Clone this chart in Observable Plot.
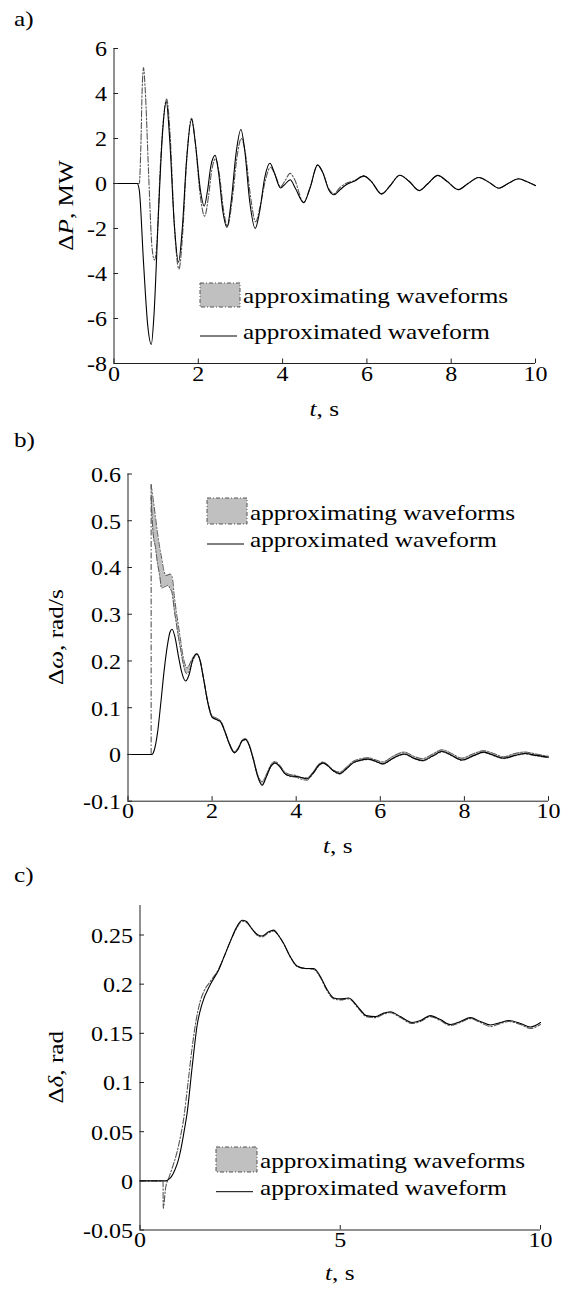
<!DOCTYPE html>
<html><head><meta charset="utf-8">
<script src="https://cdn.jsdelivr.net/npm/d3@7"></script>
<script src="https://cdn.jsdelivr.net/npm/@observablehq/plot@0.6"></script>
<style>
html,body{margin:0;padding:0;background:#fff;}
#root{position:relative;width:561px;height:1292px;overflow:hidden;}
#root svg{position:absolute;left:0;}
</style></head><body><div id="root"></div>
<script>
// ---------- data: panel a (ΔP, MW) ----------
const aXTicks = [0, 2, 4, 6, 8, 10];
const aYTicks = [-8, -6, -4, -2, 0, 2, 4, 6];
const aSolidT = [0,0.55,0.6,0.7,0.8,0.885,0.95,1.05,1.15,1.24,1.32,1.43,1.53,1.62,1.72,1.84,1.93,2.05,2.14,2.22,2.3,2.4,2.48,2.58,2.68,2.78,2.9,3.01,3.1,3.22,3.35,3.45,3.58,3.7,3.8,3.95,4.05,4.18,4.3,4.5,4.65,4.83,4.95,5.1,5.22,5.35,5.5,5.7,5.93,6.1,6.35,6.55,6.78,7.0,7.24,7.45,7.68,7.9,8.17,8.4,8.65,8.9,9.13,9.35,9.6,9.8,10];
const aSolidV = [0,0,-0.3,-3.5,-6.3,-7.15,-5.8,-1.5,2.2,3.65,2.0,-1.8,-3.5,-2.0,1.0,2.85,1.8,-0.3,-1.0,-0.3,0.8,1.25,0.5,-1.2,-1.95,-0.8,1.4,2.4,1.5,-0.8,-2.0,-1.3,0.3,0.9,0.5,-0.2,-0.05,0.17,-0.2,-0.85,-0.2,0.83,0.5,-0.3,-0.5,-0.3,-0.07,0.1,0.33,0.1,-0.47,-0.1,0.37,0.1,-0.32,0.0,0.36,0.1,-0.27,0.0,0.27,0.05,-0.21,0.0,0.21,0.08,-0.09];
const aApproxT = [0,0.6,0.635,0.67,0.7,0.74,0.82,0.9,0.96,1.02,1.1,1.18,1.25,1.33,1.43,1.54,1.63,1.72,1.84,1.93,2.05,2.15,2.24,2.32,2.41,2.5,2.6,2.69,2.8,2.92,3.02,3.12,3.24,3.36,3.47,3.6,3.71,3.82,3.95,4.05,4.18,4.28,4.5,4.65,4.83,4.95,5.1,5.22,5.35,5.5,5.7,5.93,6.1,6.35,6.55,6.78,7.0,7.24,7.45,7.68,7.9,8.17,8.4,8.65,8.9,9.13,9.35,9.6,9.8,10];
const aApproxV = [0,0,1.5,4.3,5.15,4.2,0.5,-2.8,-3.4,-2.6,0.8,3.0,3.75,2.2,-1.8,-3.8,-2.2,0.9,2.9,1.8,-0.6,-1.45,-0.6,0.6,1.1,0.4,-1.2,-1.9,-0.8,1.2,2.0,1.3,-0.6,-1.7,-1.0,0.2,0.72,0.4,-0.15,0.1,0.45,0.2,-0.85,-0.2,0.8,0.5,-0.25,-0.45,-0.2,0.0,0.12,0.35,0.1,-0.45,-0.1,0.37,0.1,-0.3,0.0,0.35,0.1,-0.27,0.0,0.27,0.05,-0.2,0.0,0.2,0.08,-0.1];

// ---------- data: panel b (Δω, rad/s) ----------
const bXTicks = [0, 2, 4, 6, 8, 10];
const bYTicks = [-0.1, 0, 0.1, 0.2, 0.3, 0.4, 0.5, 0.6];
const bSolidT = [0,0.57,0.62,0.7,0.78,0.86,0.94,1.0,1.05,1.12,1.2,1.28,1.37,1.45,1.54,1.63,1.7,1.8,1.9,2.0,2.1,2.2,2.3,2.4,2.53,2.62,2.72,2.8,2.88,2.98,3.08,3.19,3.28,3.4,3.5,3.6,3.72,3.85,4.0,4.15,4.26,4.4,4.55,4.64,4.75,4.9,5.03,5.2,5.35,5.5,5.72,5.9,6.06,6.3,6.57,6.8,7.0,7.25,7.47,7.7,7.94,8.2,8.46,8.7,8.93,9.2,9.44,9.7,10];
const bSolidV = [0,0,0.008,0.045,0.11,0.18,0.235,0.262,0.268,0.25,0.21,0.175,0.157,0.17,0.203,0.215,0.205,0.16,0.11,0.08,0.075,0.07,0.05,0.025,0.004,0.012,0.03,0.032,0.02,-0.01,-0.045,-0.066,-0.05,-0.025,-0.018,-0.025,-0.04,-0.046,-0.047,-0.05,-0.052,-0.04,-0.022,-0.018,-0.024,-0.036,-0.041,-0.03,-0.018,-0.013,-0.01,-0.015,-0.02,-0.008,0.001,-0.008,-0.013,-0.003,0.007,-0.002,-0.012,-0.003,0.005,-0.002,-0.008,-0.002,0.002,-0.002,-0.006];
const bJumpT = 0.55;
const bJumpTop = 0.577;
const bBandT = [0.55,0.6,0.65,0.7,0.75,0.8,0.85,0.9,0.95,1.0,1.05,1.1,1.15,1.2,1.25,1.3,1.35,1.4,1.45,1.5,1.57,1.64,1.72,1.8,1.9,2.0,2.1,2.2,2.3,2.4,2.53,2.62,2.72,2.8,2.88,2.98,3.08,3.19,3.28,3.4,3.5,3.6,3.72,3.85,4.0,4.15,4.26,4.4,4.55,4.64,4.75,4.9,5.03,5.2,5.35,5.5,5.72,5.9,6.06,6.3,6.57,6.8,7.0,7.25,7.47,7.7,7.94,8.2,8.46,8.7,8.93,9.2,9.44,9.7,10];
const bBandHi = [0.577,0.545,0.51,0.475,0.445,0.42,0.395,0.383,0.384,0.386,0.38,0.34,0.305,0.275,0.245,0.215,0.195,0.185,0.19,0.2,0.21,0.216,0.2,0.162,0.113,0.083,0.078,0.073,0.052,0.027,0.006,0.014,0.031,0.034,0.022,-0.008,-0.042,-0.058,-0.045,-0.022,-0.015,-0.022,-0.036,-0.043,-0.045,-0.05,-0.05,-0.038,-0.02,-0.016,-0.022,-0.034,-0.038,-0.027,-0.015,-0.01,-0.007,-0.012,-0.016,-0.004,0.005,-0.004,-0.009,0.001,0.01,0.002,-0.008,0.001,0.008,0.002,-0.005,0.002,0.005,0.001,-0.004];
const bBandLo = [0.55,0.47,0.445,0.41,0.385,0.356,0.358,0.36,0.362,0.355,0.345,0.31,0.28,0.25,0.225,0.2,0.18,0.172,0.178,0.19,0.206,0.214,0.2,0.16,0.11,0.079,0.074,0.069,0.049,0.024,0.003,0.011,0.029,0.031,0.019,-0.011,-0.046,-0.064,-0.05,-0.026,-0.019,-0.026,-0.041,-0.047,-0.049,-0.054,-0.055,-0.042,-0.024,-0.019,-0.025,-0.037,-0.042,-0.031,-0.019,-0.014,-0.011,-0.016,-0.021,-0.009,0.0,-0.009,-0.014,-0.004,0.005,-0.003,-0.013,-0.004,0.004,-0.003,-0.009,-0.003,0.001,-0.003,-0.007];

// ---------- data: panel c (Δδ, rad) ----------
const cXTicks = [0, 5, 10];
const cYTicks = [-0.05, 0, 0.05, 0.1, 0.15, 0.2, 0.25];
const cSolidT = [0,0.65,0.7,0.78,0.87,0.95,1.02,1.1,1.18,1.3,1.43,1.55,1.76,1.97,2.1,2.26,2.4,2.55,2.65,2.8,2.95,3.05,3.2,3.34,3.45,3.59,3.75,3.92,4.13,4.34,4.5,4.65,4.84,5.0,5.21,5.46,5.65,5.88,6.05,6.25,6.5,6.8,7.0,7.25,7.5,7.75,8.0,8.25,8.5,8.75,9.0,9.21,9.5,9.75,10];
const cSolidV = [0,0,0.001,0.004,0.011,0.02,0.032,0.05,0.07,0.115,0.159,0.18,0.2,0.215,0.228,0.244,0.257,0.265,0.264,0.256,0.25,0.249,0.253,0.255,0.25,0.241,0.228,0.2185,0.216,0.216,0.208,0.196,0.186,0.185,0.186,0.176,0.168,0.167,0.17,0.172,0.167,0.161,0.163,0.168,0.164,0.159,0.162,0.166,0.162,0.1585,0.161,0.163,0.16,0.1565,0.161];
const cApproxT = [0,0.575,0.58,0.64,0.72,0.82,0.93,1.01,1.09,1.2,1.3,1.4,1.5,1.6,1.76,1.97,2.1,2.26,2.4,2.55,2.65,2.8,2.95,3.05,3.2,3.34,3.45,3.59,3.75,3.92,4.13,4.34,4.5,4.65,4.84,5.0,5.21,5.46,5.65,5.88,6.05,6.25,6.5,6.8,7.0,7.25,7.5,7.75,8.0,8.25,8.5,8.75,9.0,9.21,9.5,9.75,10];
const cApproxV = [0,0,-0.028,-0.007,0.003,0.015,0.03,0.045,0.063,0.1,0.135,0.163,0.182,0.193,0.203,0.216,0.228,0.244,0.256,0.264,0.263,0.256,0.249,0.248,0.252,0.254,0.25,0.241,0.228,0.218,0.216,0.215,0.207,0.195,0.185,0.184,0.185,0.175,0.167,0.166,0.169,0.171,0.166,0.16,0.162,0.167,0.163,0.158,0.161,0.165,0.161,0.157,0.16,0.162,0.159,0.155,0.159];

const legendTexts = ["approximating waveforms", "approximated waveform"];

// ---------- rendering ----------
const FONT = '"Liberation Serif","Times New Roman",serif';
const SX = 1.2;            // horizontal stretch of the lettering
const DASH = "6,2,1.5,2";  // dash-dot
const root = document.getElementById("root");
const zip = (T, V) => T.map((t, i) => ({t, v: V[i]}));

function addText(svg, {x, y, rotate = 0, anchor = "start", size = 21, parts}) {
  const t = d3.select(svg).append("text")
    .attr("transform", `translate(${x},${y})${rotate ? ` rotate(${rotate})` : ""}`)
    .attr("text-anchor", anchor).attr("font-size", size)
    .attr("font-family", FONT).attr("fill", "#000").attr("stroke", "none");
  parts.forEach(([s, it]) => t.append("tspan").text(s).attr("font-style", it ? "italic" : null));
}

function addLegend(svg, L) {
  const g = d3.select(svg).append("g");
  g.append("rect").attr("x", L.px).attr("y", L.py).attr("width", L.pw).attr("height", L.ph)
    .attr("fill", "#c0c0c0").attr("stroke", "#555").attr("stroke-width", 1).attr("stroke-dasharray", "4,2,1,2");
  g.append("line").attr("x1", L.px).attr("x2", L.px + L.lw).attr("y1", L.ly).attr("y2", L.ly)
    .attr("stroke", "#000").attr("stroke-width", 1);
  addText(svg, {x: L.tx, y: L.t1, parts: [[legendTexts[0], false]]});
  addText(svg, {x: L.tx, y: L.t2, parts: [[legendTexts[1], false]]});
}

function stretch(svg) {
  svg.querySelectorAll("text").forEach(t => {
    let tr = t.getAttribute("transform");
    if (!tr) {
      const x = parseFloat(t.getAttribute("x")) || 0;
      t.removeAttribute("x");
      tr = `translate(${x},0)`;
    }
    t.setAttribute("transform", `${tr} scale(${SX},1)`);
  });
}

function panel(P) {
  const W = 561;
  const fw = W - P.ml - P.mr, fh = P.height - P.mt - P.mb;
  const TL = 4.5;
  const svg = Plot.plot({
    width: W, height: P.height,
    marginLeft: P.ml, marginRight: P.mr, marginTop: P.mt, marginBottom: P.mb,
    x: {domain: P.xDomain}, y: {domain: P.yDomain},
    style: {fontFamily: FONT, fontSize: "20px", color: "#000", background: "transparent", overflow: "visible"},
    marks: [
      ...P.marks,
      Plot.ruleX([P.xDomain[0]], {stroke: "#222", strokeWidth: 1}),
      Plot.ruleY([P.yDomain[0]], {stroke: "#222", strokeWidth: 1}),
      Plot.tickY(P.yTicks, {y: d => d, insetRight: fw - TL, stroke: "#222"}),
      Plot.tickX(P.xTicks, {x: d => d, insetTop: fh - TL, stroke: "#222"}),
      Plot.axisY({ticks: P.yTicks, tickSize: 0, tickPadding: 7, tickFormat: d => String(d), label: null, dy: 1.5}),
      Plot.axisX({ticks: P.xTicks, tickSize: 0, tickPadding: 3, tickFormat: d => String(d), label: null})
    ]
  });
  svg.style.top = P.top + "px";
  const midY = P.mt + fh / 2, midX = P.ml + fw / 2;
  addText(svg, {x: 14, y: P.letterY, parts: [[P.letter, false]]});
  addText(svg, {x: P.ylabelX, y: midY, rotate: -90, anchor: "middle", parts: P.ylabel});
  addText(svg, {x: midX, y: P.xlabelY, anchor: "middle", parts: [["t", true], [", s", false]]});
  addLegend(svg, P.legend);
  stretch(svg);
  root.appendChild(svg);
}

// panel a
panel({
  top: 0, height: 430, ml: 113.5, mr: 26, mt: 48, mb: 67,
  xDomain: [0, 10], yDomain: [-8, 6], xTicks: aXTicks, yTicks: aYTicks,
  marks: [
    Plot.line(zip(aApproxT, aApproxV), {x: "t", y: "v", stroke: "#555", strokeWidth: 1.1, strokeDasharray: DASH, curve: "monotone-x"}),
    Plot.line(zip(aSolidT, aSolidV), {x: "t", y: "v", stroke: "#000", strokeWidth: 1.1, curve: "monotone-x"})
  ],
  letter: "a)", letterY: 26,
  ylabel: [["Δ", false], ["P", true], [", MW", false]], ylabelX: 73, xlabelY: 416,
  legend: {px: 200, py: 283, pw: 40, ph: 24, lw: 37, ly: 336, tx: 243, t1: 303, t2: 339}
});

// panel b
const bBand = bBandT.map((t, i) => ({t, lo: bBandLo[i], hi: bBandHi[i]}));
panel({
  top: 430, height: 430, ml: 127.5, mr: 13, mt: 43.5, mb: 59.3,
  xDomain: [0, 10], yDomain: [-0.1, 0.6], xTicks: bXTicks, yTicks: bYTicks,
  marks: [
    Plot.areaY(bBand, {x: "t", y1: "lo", y2: "hi", fill: "#c0c0c0", curve: "monotone-x"}),
    Plot.ruleX([{t: bJumpT, lo: 0, hi: bJumpTop}], {x: "t", y1: "lo", y2: "hi", stroke: "#444", strokeWidth: 1, strokeDasharray: DASH}),
    Plot.line(bBand, {x: "t", y: "hi", stroke: "#555", strokeWidth: 1, strokeDasharray: DASH, curve: "monotone-x"}),
    Plot.line(bBand, {x: "t", y: "lo", stroke: "#555", strokeWidth: 1, strokeDasharray: DASH, curve: "monotone-x"}),
    Plot.line(zip(bSolidT, bSolidV), {x: "t", y: "v", stroke: "#000", strokeWidth: 1.1, curve: "monotone-x"})
  ],
  letter: "b)", letterY: 17,
  ylabel: [["Δ", false], ["ω", true], [", rad/s", false]], ylabelX: 63, xlabelY: 423,
  legend: {px: 207, py: 68, pw: 40, ph: 26, lw: 37, ly: 114, tx: 250, t1: 90, t2: 117}
});

// panel c
panel({
  top: 860, height: 432, ml: 139.5, mr: 21, mt: 45, mb: 62.5,
  xDomain: [0, 10], yDomain: [-0.05, 0.28], xTicks: cXTicks, yTicks: cYTicks,
  marks: [
    Plot.line(zip(cApproxT, cApproxV), {x: "t", y: "v", stroke: "#555", strokeWidth: 1.1, strokeDasharray: DASH, curve: "monotone-x"}),
    Plot.line(zip(cSolidT, cSolidV), {x: "t", y: "v", stroke: "#000", strokeWidth: 1.1, curve: "monotone-x"})
  ],
  letter: "c)", letterY: 22,
  ylabel: [["Δ", false], ["δ", true], [", rad", false]], ylabelX: 63, xlabelY: 420,
  legend: {px: 216, py: 287, pw: 41, ph: 25, lw: 37, ly: 331.7, tx: 260, t1: 308, t2: 335}
});
</script></body></html>
